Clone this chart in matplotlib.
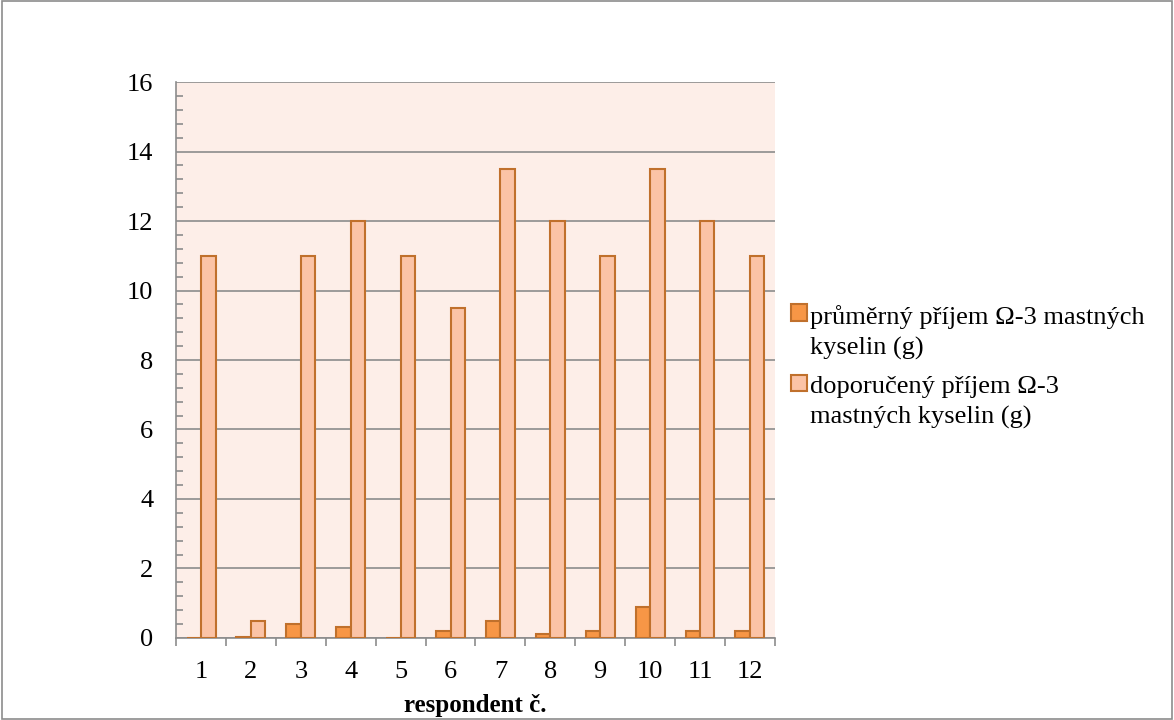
import numpy as np
import matplotlib.pyplot as plt
from matplotlib.patches import Rectangle
from matplotlib.container import BarContainer
from matplotlib.legend_handler import HandlerPatch, update_from_first_child

respondents = ['1', '2', '3', '4', '5', '6', '7', '8', '9', '10', '11', '12']
prumerny = [0, 0.04, 0.4, 0.3, 0, 0.2, 0.5, 0.1, 0.2, 0.9, 0.2, 0.2]
doporuceny = [11, 0.5, 11, 12, 11, 9.5, 13.5, 12, 11, 13.5, 12, 11]

plt.rcParams['font.family'] = ['Liberation Serif', 'DejaVu Serif']


# legend marker next to the first line of a two-line label
def top_square(legend, orig_handle, xdescent, ydescent, width, height, fontsize):
    return Rectangle((-xdescent, -ydescent + 0.72 * fontsize), width, height)


fig = plt.figure(figsize=(11.74, 7.2), dpi=100)
fig.patches.append(Rectangle((0.002, 0.002), 0.996, 0.996, transform=fig.transFigure,
                             fill=False, edgecolor='#8c8c8c', linewidth=1.2))
ax = fig.add_axes([0.15, 0.114, 0.51, 0.772])
ax.set_facecolor('#fdeee8')

x = np.arange(len(respondents))
w = 0.29
edge = '#c0702c'
ax.bar(x - w / 2, prumerny, w, color='#f79646', edgecolor=edge, linewidth=1.5,
       label='průměrný příjem Ω-3 mastných\nkyselin (g)', zorder=3)
ax.bar(x + w / 2, doporuceny, w, color='#fbc3a6', edgecolor=edge, linewidth=1.5,
       label='doporučený příjem Ω-3\nmastných kyselin (g)', zorder=3)

ax.set_xlim(-0.5, len(respondents) - 0.5)
ax.set_ylim(0, 16)
ax.set_yticks(np.arange(0, 17, 2))
ax.set_yticks(np.arange(0, 16.01, 0.4), minor=True)
ax.set_xticks(x)
ax.set_xticklabels(respondents)
ax.set_xticks(np.arange(-0.5, len(respondents), 1), minor=True)
ax.tick_params(axis='x', which='major', length=0, labelsize=19, pad=16.5)
ax.tick_params(axis='x', which='minor', length=6, width=1.2, color='#8c8c8c', direction='out')
ax.tick_params(axis='y', which='major', length=0, labelsize=19, pad=16.5)
ax.tick_params(axis='y', which='minor', length=5, width=1.2, color='#8c8c8c', direction='in')
ax.grid(axis='y', color='#8c8c8c', linewidth=1.2, zorder=0)
ax.set_axisbelow(True)

for s in ['top', 'right']:
    ax.spines[s].set_visible(False)
for s in ['left', 'bottom']:
    ax.spines[s].set_color('#8c8c8c')
    ax.spines[s].set_linewidth(1.2)

ax.set_xlabel('respondent č.', fontsize=18, fontweight='bold', labelpad=8)

leg = ax.legend(loc='center left', bbox_to_anchor=(1.0, 0.487), frameon=False, fontsize=19,
                handlelength=0.6, handleheight=0.6, handletextpad=0.15, labelspacing=0.62,
                borderaxespad=0.6, borderpad=0.0,
                handler_map={BarContainer: HandlerPatch(patch_func=top_square,
                                                        update_func=update_from_first_child)})
for t in leg.get_texts():
    t.set_linespacing(1.45)

fig.savefig('out.png', dpi=100)
